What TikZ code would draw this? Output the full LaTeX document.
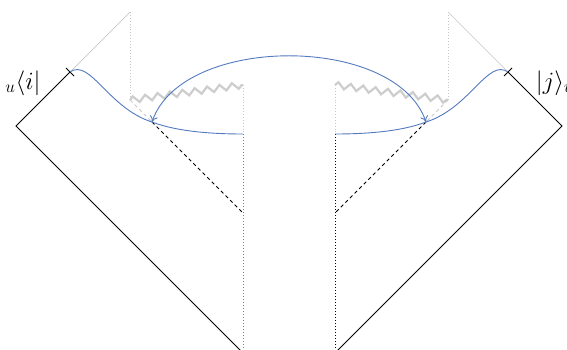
\documentclass[tikz,border=0pt]{standalone}
\usetikzlibrary{decorations.pathmorphing,arrows.meta}
\definecolor{curveblue}{RGB}{84,122,190}
\definecolor{lightg}{RGB}{200,200,200}
\definecolor{zigg}{RGB}{205,205,205}
\tikzset{
  edge/.style={black,line width=0.8pt},
  ghost/.style={lightg,line width=0.7pt},
  ghostdot/.style={lightg,line width=0.9pt,dotted},
  innerdot/.style={line width=1pt,dotted},
  horizon/.style={black,line width=0.85pt,dash pattern=on 3.5pt off 3pt},
  ghostdash/.style={lightg,line width=0.8pt,dash pattern=on 3.5pt off 3pt},
  singular/.style={zigg,line width=2.2pt,decorate,decoration={zigzag,segment length=12.5pt,amplitude=3.2pt}},
  wave/.style={curveblue,line width=0.9pt},
  bridge/.style={curveblue,line width=0.9pt,{To[length=6pt,width=8pt]}-{To[length=6pt,width=8pt]}},
  tick/.style={black,line width=0.8pt},
  braket/.style={font=\fontsize{27}{30}\selectfont,inner sep=0pt}
}
\begin{document}
\begin{tikzpicture}[x=1pt,y=-1pt]
\useasboundingbox (0,0) rectangle (567,349);
% left diagram points
\coordinate (Lc) at (16,126);
\coordinate (Lt) at (70,72);
\coordinate (Lg) at (130,12);
\coordinate (Lz) at (130,100);
\coordinate (Lm) at (152,122);
\coordinate (Lr) at (243,85);
\coordinate (Lh) at (243,134);
\coordinate (Ld) at (243,213);
\coordinate (Lb) at (243,353);
\coordinate (Lta) at (66,68);
\coordinate (Ltb) at (74,76);
% right diagram points
\coordinate (Rc) at (562,126);
\coordinate (Rt) at (508,72);
\coordinate (Rg) at (448,12);
\coordinate (Rz) at (448,100);
\coordinate (Rm) at (426,122);
\coordinate (Rr) at (335,85);
\coordinate (Rh) at (335,134);
\coordinate (Rd) at (335,213);
\coordinate (Rb) at (335,353);
\coordinate (Rta) at (512,68);
\coordinate (Rtb) at (504,76);

% left
\draw[edge] (Lb) -- (Lc) -- (Lt);
\draw[ghost] (Lt) -- (Lg);
\draw[ghostdot] (Lg) -- (Lz);
\draw[ghostdot] (Lr) -- (Lh);
\draw[innerdot,black!50] (Lh) -- (Lb);
\draw[singular] (Lz) -- (Lr);
\draw[ghostdash] (Lz) -- (Lm);
\draw[horizon] (Lm) -- (Ld);
\draw[tick] (Lta) -- (Ltb);
% right
\draw[edge] (Rb) -- (Rc) -- (Rt);
\draw[ghost] (Rt) -- (Rg);
\draw[ghostdot] (Rg) -- (Rz);
\draw[ghostdot] (Rr) -- (Rh);
\draw[innerdot,black] (Rh) -- (Rb);
\draw[singular] (Rr) -- (Rz);
\draw[ghostdash] (Rz) -- (Rm);
\draw[horizon] (Rm) -- (Rd);
\draw[tick] (Rta) -- (Rtb);
% blue curves
\draw[wave] (Lt) .. controls (90,58) and (108,108) .. (Lm) .. controls (178,132) and (215,134) .. (Lh);
\draw[wave] (Rt) .. controls (488,58) and (470,108) .. (Rm) .. controls (400,132) and (363,134) .. (Rh);
\draw[bridge] (Lm) .. controls (182,34) and (396,34) .. (Rm);
% labels
\node[braket] (bra) at (23,83) {$_u\langle i|$};
\node[braket] (ket) at (555,83) {$|j\rangle_u$};
\end{tikzpicture}
\end{document}
